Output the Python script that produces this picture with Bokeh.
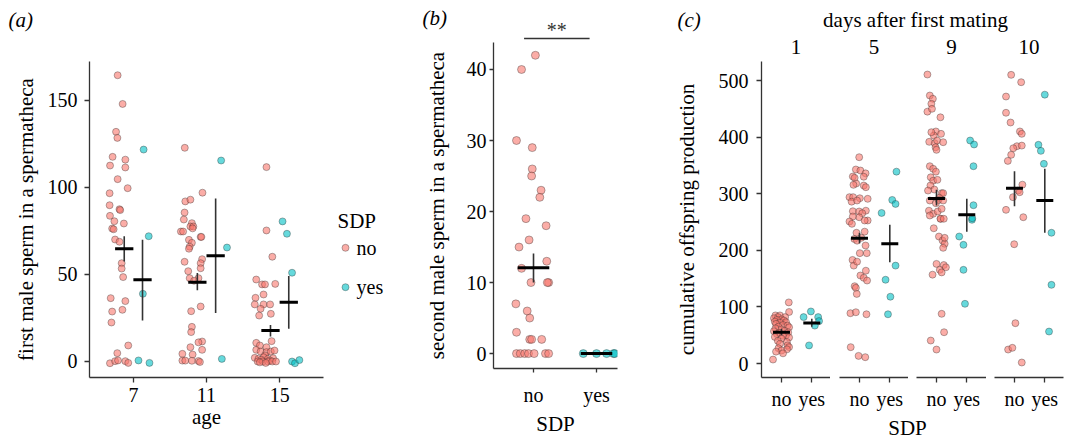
import numpy as np
from bokeh.plotting import figure
from bokeh.models import Range1d, FixedTicker
from bokeh.layouts import row, column
from bokeh.core.properties import value
from bokeh.embed import file_html
from bokeh.resources import INLINE

FONT = "Liberation Serif"
NO_COLOR = "#F8766D"
YES_COLOR = "#00BFC4"

# ---------------- data: panel (a) ----------------
a_ages = ["7", "11", "15"]
a7_no_y = [164.5, 148, 132, 128.5, 117.6, 116, 112.6, 111.5, 104.8, 99.6, 96.7, 89.8, 87.5, 87, 83.7, 80.6,
           76.4, 76, 79.3, 70.1, 68.8, 56.5, 53.4, 48.5, 36.4, 34.7, 28.7, 29.7, 22.4, 9.2, 4.8, -1, 0.2, 0.6, 0.2, -0.8]
a7_no_dx = [-0.215, -0.147, -0.237, -0.219, -0.284, -0.11, -0.319, -0.11, -0.215, -0.078, -0.325, -0.325, -0.19,
            -0.18, -0.32, -0.26, -0.29, -0.27, -0.13, -0.25, -0.19, -0.16, -0.16, -0.14, -0.31, -0.11, -0.29, -0.15,
            -0.3, -0.07, -0.22, -0.32, -0.25, -0.21, -0.11, -0.07]
a7_yes_y = [121.8, 72, 38.9, 0.6, -0.8]
a7_yes_dx = [0.14, 0.21, 0.13, 0.07, 0.22]
a11_no_y = [122.8, 97, 92, 93, 85.6, 81.6, 79.5, 77.6, 77.6, 76.5, 74.7, 74.7, 71.6, 71.6, 69.9, 68.2, 66, 64.8,
            58.8, 56.5, 57.3, 51.9, 53.6, 47.9, 47.9, 46.4, 31.6, 28.9, 19.9, 16.9, 11.5, 11, 8.2, 6.7, 4.4, 4,
            0.5, 0.5, 0.4, 0.3, -0.3]
a11_no_dx = [-0.297, -0.055, -0.29, -0.22, -0.3, -0.31, -0.2, -0.22, -0.18, -0.19, -0.35, -0.32, -0.08, -0.07,
             -0.24, -0.2, -0.23, -0.24, -0.06, -0.08, -0.3, -0.25, -0.08, -0.23, -0.11, -0.17, -0.08, -0.21, -0.2,
             -0.21, -0.06, -0.11, -0.22, -0.06, -0.33, -0.19, -0.33, -0.29, -0.2, -0.11, -0.09]
a11_yes_y = [115.5, 65.5, 1.5]
a11_yes_dx = [0.2, 0.28, 0.21]
a15_no_y = [111.7, 75.3, 60.2, 47.1, 44.6, 44.3, 44.3, 38.5, 36.6, 32.8, 32.8, 32.8, 30.3, 27.4, 26.4, 11.7, 10.7,
            9.2, 8.2, 6.7, 5.7, 5.4, 5.7, 6.3, 3.5, 2.1, 1.5, 2.5, 1.5, 1.9, 1, 0.5, 0, 0, 0, 0, 0, -0.5, -0.8]
a15_no_dx = [-0.18, -0.18, -0.1, -0.32, -0.06, -0.24, -0.2, -0.22, -0.33, -0.34, -0.22, -0.13, -0.26, -0.12,
             -0.28, -0.11, -0.32, -0.27, -0.18, -0.32, -0.26, -0.18, -0.12, -0.07, -0.2, -0.34, -0.29, -0.22,
             -0.16, -0.09, -0.25, -0.13, -0.3, -0.23, -0.16, -0.1, -0.05, -0.27, -0.19]
a15_yes_y = [80.5, 73.4, 51, 0, -1, 0.8]
a15_yes_dx = [0.04, 0.1, 0.17, 0.17, 0.21, 0.27]
a_no_mean = [64.8, 45.6, 17.8]
a_no_lo = [57.5, 41.0, 14.4]
a_no_hi = [72.0, 50.8, 21.0]
a_yes_mean = [47.0, 60.7, 34.1]
a_yes_lo = [23.6, 27.8, 18.8]
a_yes_hi = [70.0, 93.7, 49.2]

# ---------------- data: panel (b) ----------------
b_groups = ["no", "yes"]
b_no_y = [42, 40, 30, 29, 26, 25, 23, 22, 19, 18, 16, 15, 13, 12, 10, 10, 10, 7, 6, 5, 3, 2, 2, 2, 0, 0, 0, 0, 0, 0, 0]
b_no_dx = [0.03, -0.19, -0.27, -0.02, -0.02, -0.03, 0.12, 0.1, -0.12, 0.2, -0.07, -0.23, 0.21, -0.19, -0.04,
           0.24, 0.22, -0.28, -0.1, -0.06, -0.27, -0.06, -0.03, 0.13, -0.27, -0.21, -0.14, -0.08, 0.01, 0.19, 0.24]
b_yes_y = [0, 0, 0, 0, 0]
b_yes_dx = [-0.21, 0.0, 0.16, 0.27, 0.29]
b_mean = [12.1, 0.0]
b_lo = [10.0, 0.0]
b_hi = [14.1, 0.0]
b_signif = "**"
b_signif_from = 0.85
b_signif_to = 1.89

# ---------------- data: panel (c) ----------------
c_days = ["1", "5", "9", "10"]
c1_no_y = [108, 91, 85, 85, 82, 82, 80, 78, 77, 76, 74, 73, 72, 70, 68, 67, 65, 64, 62, 60, 58, 57, 55, 54, 52,
           50, 49, 47, 46, 44, 40, 38, 35, 32, 29, 27, 25, 23, 21, 18, 7]
c1_no_dx = [0.24, 0.25, -0.2, -0.05, -0.12, 0.12, -0.25, 0.0, -0.15, 0.08, -0.22, 0.15, -0.05, -0.18, 0.05, 0.2,
            -0.1, 0.25, -0.2, 0.0, 0.1, -0.25, 0.22, -0.08, -0.15, 0.15, 0.05, -0.22, 0.25, 0.0, -0.12, 0.18,
            -0.05, 0.2, 0.25, -0.1, 0.18, 0.0, -0.18, 0.05, -0.28]
c1_yes_y = [82, 92, 82, 75, 67, 32]
c1_yes_dx = [-0.27, -0.03, 0.21, 0.24, 0.1, -0.09]
c5_no_y = [364.5, 342.8, 341, 336, 330, 330.4, 328, 318, 315.7, 314.5, 311.5, 293.9, 293.9, 292, 291, 286, 288,
           269, 268.6, 270, 265.5, 252.7, 258.5, 252.7, 259.7, 250.9, 246.8, 233, 231, 222, 220, 217, 208.5, 195,
           195, 183, 173, 180, 164, 155.5, 151.4, 146.6, 136.6, 133.7, 123, 88.9, 90.6, 87, 28.9, 13.5, 11.2]
c5_no_dx = [-0.01, -0.12, 0.03, 0.2, 0.14, -0.22, -0.16, -0.11, -0.2, 0.14, 0.21, -0.33, -0.21, 0.01, 0.27, -0.26,
            -0.08, -0.22, -0.01, 0.21, 0.09, 0.27, -0.01, 0.17, -0.22, -0.33, -0.25, 0.17, -0.1, 0.06, -0.17, -0.08,
            0.2, 0.24, 0.01, -0.23, -0.19, -0.08, 0.21, 0.03, 0.14, 0.25, -0.16, -0.12, -0.09, -0.3, -0.12, 0.23,
            -0.29, -0.03, 0.19]
c5_yes_y = [266, 289, 282, 339, 148, 173, 118, 87]
c5_yes_dx = [-0.27, 0.08, 0.19, 0.22, -0.14, 0.19, 0.02, -0.06]
c9_no_y = [510.6, 473.5, 467.7, 458.8, 445, 450, 435, 410, 402.8, 408.7, 405.8, 391.7, 389.3, 394, 391, 382,
           377.5, 348.6, 344, 339, 329, 323, 324.5, 314.5, 307.4, 301, 305.6, 301, 292.8, 288, 283.2, 289, 288,
           270, 264.5, 268.6, 273.3, 255.7, 261.5, 255.7, 255.7, 239, 224.4, 217.3, 211.5, 204.4, 222, 176, 174,
           165.5, 170, 157, 161, 87.8, 55.3, 40.6, 24.7]
c9_no_dx = [-0.3, -0.22, -0.12, -0.17, -0.3, -0.15, 0.13, -0.02, -0.09, -0.17, 0.15, -0.24, -0.06, 0.02, 0.22,
            -0.03, 0.0, -0.22, -0.11, -0.02, -0.19, -0.11, 0.03, -0.2, -0.07, 0.17, -0.28, 0.22, 0.09, -0.22,
            -0.02, 0.07, 0.22, -0.25, -0.11, 0.04, 0.17, 0.14, -0.22, 0.13, 0.24, -0.09, 0.08, 0.2, 0.27, 0.22,
            0.27, 0.0, 0.24, 0.11, 0.31, -0.13, 0.17, 0.17, 0.25, -0.19, 0.0]
c9_yes_y = [105.5, 165.5, 209.7, 224.4, 279.7, 253.9, 256.7, 348.6, 394, 387]
c9_yes_dx = [-0.06, -0.11, -0.11, -0.25, 0.22, 0.17, 0.18, 0.22, 0.11, 0.24]
c10_no_y = [510, 497, 471.7, 443, 425.8, 410, 405.8, 384, 385, 380.4, 368.7, 358, 316, 305.7, 302.7, 293.9,
            271.5, 258.5, 210.8, 71.3, 24.7, 27.7, 1.8]
c10_no_dx = [-0.11, 0.22, -0.28, -0.28, -0.13, 0.18, 0.24, 0.08, 0.24, -0.04, -0.11, -0.22, 0.26, 0.12, 0.17,
             -0.05, -0.28, 0.29, -0.01, 0.03, -0.21, -0.07, 0.24]
c10_yes_y = [475, 386.4, 375.7, 352.8, 231, 139, 56.5]
c10_yes_dx = [0.0, -0.21, -0.13, -0.03, 0.22, 0.22, 0.14]
c_no_mean = [55.3, 221.4, 291.5, 309.8]
c_no_lo = [50.0, 212.6, 279.0, 278.0]
c_no_hi = [61.0, 231.0, 307.0, 339.8]
c_yes_mean = [71.5, 211.5, 262.7, 288.0]
c_yes_lo = [65.0, 179.0, 233.0, 231.0]
c_yes_hi = [79.0, 245.0, 291.0, 344.0]


# ---------------- helpers ----------------
def make_fig(**kw):
    p = figure(output_backend="svg", toolbar_location=None, **kw)
    p.outline_line_color = None
    p.grid.visible = False
    p.background_fill_color = "white"
    p.border_fill_color = "white"
    return p


def blank_fig(width, height, x_range=None):
    xr = x_range if x_range is not None else Range1d(0, width)
    return make_fig(width=width, height=height, x_range=xr, y_range=Range1d(height, 0),
                    x_axis_location=None, y_axis_location=None, min_border=0)


def txt(p, x, y, texts, size="21px", align="left", baseline="middle", style="normal", color="black"):
    p.text(x=x, y=y, text=texts, text_font=value(FONT), text_font_size=value(size),
           text_font_style=style, text_align=align, text_baseline=baseline, text_color=color)


def style_axes(p, tick_out=5, label_standoff=6, title_standoff=8):
    for ax in p.axis:
        ax.axis_line_color = "#333333"
        ax.axis_line_width = 1.3
        ax.major_tick_line_color = "#333333"
        ax.major_tick_line_width = 1.3
        ax.major_tick_in = 0
        ax.major_tick_out = tick_out
        ax.minor_tick_line_color = None
        ax.major_label_text_font = FONT
        ax.major_label_text_font_size = "20px"
        ax.major_label_text_color = "black"
        ax.major_label_standoff = label_standoff
        ax.axis_label_text_font = FONT
        ax.axis_label_text_font_size = "21px"
        ax.axis_label_text_font_style = "normal"
        ax.axis_label_text_color = "black"
        ax.axis_label_standoff = title_standoff


def points(p, xs, ys, color, size=7):
    p.scatter(x=list(xs), y=list(ys), size=size, marker="circle", fill_color=color, fill_alpha=0.6,
              line_color="#2a2a2a", line_alpha=0.45, line_width=0.8)


def summary(p, xc, mean, lo, hi, half):
    xc = np.asarray(xc, dtype=float)
    p.segment(x0=xc, y0=lo, x1=xc, y1=hi, line_color="#333333", line_width=1.6)
    p.segment(x0=xc - half, y0=mean, x1=xc + half, y1=mean, line_color="black", line_width=3)


# ---------------- panel (a) ----------------
A_W = 330
hA = blank_fig(A_W, 40)
txt(hA, [8], [19], ["(a)"], style="italic")

pa = make_fig(width=A_W, height=398, x_range=Range1d(0.4, 3.6), y_range=Range1d(-9.2, 172.4),
              min_border_left=89, min_border_right=7, min_border_top=21, min_border_bottom=61)
a_no = [(a7_no_y, a7_no_dx), (a11_no_y, a11_no_dx), (a15_no_y, a15_no_dx)]
a_yes = [(a7_yes_y, a7_yes_dx), (a11_yes_y, a11_yes_dx), (a15_yes_y, a15_yes_dx)]
for i, (ys, dxs) in enumerate(a_no):
    points(pa, (i + 1) + np.array(dxs), ys, NO_COLOR)
for i, (ys, dxs) in enumerate(a_yes):
    points(pa, (i + 1) + np.array(dxs), ys, YES_COLOR)
a_pos = np.arange(1, len(a_ages) + 1)
summary(pa, a_pos - 0.125, a_no_mean, a_no_lo, a_no_hi, 0.125)
summary(pa, a_pos + 0.125, a_yes_mean, a_yes_lo, a_yes_hi, 0.125)
pa.xaxis.ticker = FixedTicker(ticks=list(a_pos))
pa.xaxis.major_label_overrides = {int(k): v for k, v in zip(a_pos, a_ages)}
pa.yaxis.ticker = FixedTicker(ticks=[0, 50, 100, 150])
pa.xaxis.axis_label = "age"
pa.yaxis.axis_label = "first male sperm in a spermatheca"
style_axes(pa, tick_out=5, label_standoff=7, title_standoff=7)
pa.xaxis.major_label_standoff = 5
pa.xaxis.axis_label_standoff = 0

# ---------------- legend ----------------
pl = blank_fig(90, 438)
txt(pl, [7], [220], ["SDP"])
pl.scatter(x=[15, 15], y=[247.3, 286.7], size=7, marker="circle", fill_color=[NO_COLOR, YES_COLOR],
           fill_alpha=0.6, line_color="#2a2a2a", line_alpha=0.45, line_width=0.8)
txt(pl, [26, 26], [247.3, 286.7], b_groups, size="20px")

# ---------------- panel (b) ----------------
B_W, B_LEFT, B_RIGHT = 210, 73, 13
b_x0, b_x1 = 0.365, 2.333
pb = make_fig(width=B_W, height=396, x_range=Range1d(b_x0, b_x1), y_range=Range1d(-2.1, 43.8),
              min_border_left=B_LEFT, min_border_right=B_RIGHT, min_border_top=0, min_border_bottom=64)
points(pb, 1 + np.array(b_no_dx), b_no_y, NO_COLOR, size=8)
points(pb, 2 + np.array(b_yes_dx), b_yes_y, YES_COLOR, size=8)
b_pos = np.arange(1, len(b_groups) + 1)
summary(pb, b_pos, b_mean, b_lo, b_hi, 0.25)
pb.xaxis.ticker = FixedTicker(ticks=list(b_pos))
pb.xaxis.major_label_overrides = {int(k): v for k, v in zip(b_pos, b_groups)}
pb.yaxis.ticker = FixedTicker(ticks=[0, 10, 20, 30, 40])
pb.xaxis.axis_label = "SDP"
pb.yaxis.axis_label = "second male sperm in a spermatheca"
style_axes(pb, tick_out=4, label_standoff=3, title_standoff=15)
pb.xaxis.major_label_standoff = 11
pb.xaxis.axis_label_standoff = 3

# header of (b) with the same x scale as panel (b)
ppu = (B_W - B_LEFT - B_RIGHT) / (b_x1 - b_x0)
hB = blank_fig(B_W, 42, x_range=Range1d(b_x0 - B_LEFT / ppu, b_x0 + (B_W - B_LEFT) / ppu))
hB.segment(x0=[b_signif_from], y0=[38], x1=[b_signif_to], y1=[38], line_color="#333333", line_width=1.3)
txt(hB, [(b_signif_from + b_signif_to) / 2], [29], [b_signif], size="20px", align="center",
    baseline="middle", color="#333333")
txt(hB, [b_x0 - (B_LEFT - 2) / ppu], [17.5], ["(b)"], style="italic")

# ---------------- panel (c) ----------------
c_fig_w = [200, 78, 78, 81]
c_border_l = [131, 9, 8, 8]
c_frame_w = [69, 69, 70, 69]
C_PX_PER_UNIT = 30.3
C_X0 = 0.34
c_yrange = Range1d(-24.7, 533.6)
c_no = [(c1_no_y, c1_no_dx), (c5_no_y, c5_no_dx), (c9_no_y, c9_no_dx), (c10_no_y, c10_no_dx)]
c_yes = [(c1_yes_y, c1_yes_dx), (c5_yes_y, c5_yes_dx), (c9_yes_y, c9_yes_dx), (c10_yes_y, c10_yes_dx)]
facets = []
facet_centers = []
x_cursor = 0
for i in range(4):
    fw = c_frame_w[i]
    kw = dict(width=c_fig_w[i], height=355, x_range=Range1d(C_X0, C_X0 + fw / C_PX_PER_UNIT), y_range=c_yrange,
              min_border_left=c_border_l[i], min_border_right=c_fig_w[i] - c_border_l[i] - fw,
              min_border_top=3, min_border_bottom=36)
    if i > 0:
        kw["y_axis_location"] = None
    pc = make_fig(**kw)
    points(pc, 1 + np.array(c_no[i][1]), c_no[i][0], NO_COLOR)
    points(pc, 2 + np.array(c_yes[i][1]), c_yes[i][0], YES_COLOR)
    summary(pc, [1, 2], [c_no_mean[i], c_yes_mean[i]], [c_no_lo[i], c_yes_lo[i]],
            [c_no_hi[i], c_yes_hi[i]], 0.28)
    pc.xaxis.ticker = FixedTicker(ticks=[1, 2])
    pc.xaxis.major_label_overrides = {1: b_groups[0], 2: b_groups[1]}
    if i == 0:
        pc.yaxis.ticker = FixedTicker(ticks=[0, 100, 200, 300, 400, 500])
        pc.yaxis.axis_label = "cumulative offspring production"
    style_axes(pc, tick_out=5, label_standoff=8, title_standoff=17)
    pc.xaxis.major_label_standoff = 5
    facets.append(pc)
    facet_centers.append(x_cursor + c_border_l[i] + fw / 2)
    x_cursor += c_fig_w[i]

C_W = sum(c_fig_w)
hC = blank_fig(C_W, 58)
txt(hC, [47], [19], ["(c)"], style="italic")
txt(hC, [285], [19], ["days after first mating"], align="center")
txt(hC, facet_centers, [46.7] * 4, c_days, align="center")

fC = blank_fig(C_W, 25)
txt(fC, [277], [14], ["SDP"], align="center")

# nesting the plots in rows keeps the header frames independent of the plot frames
layout = row(column(hA, row(pa)), pl, column(hB, row(pb)), column(hC, row(*facets), fC))

open("out.html", "w").write(file_html(layout, INLINE))
